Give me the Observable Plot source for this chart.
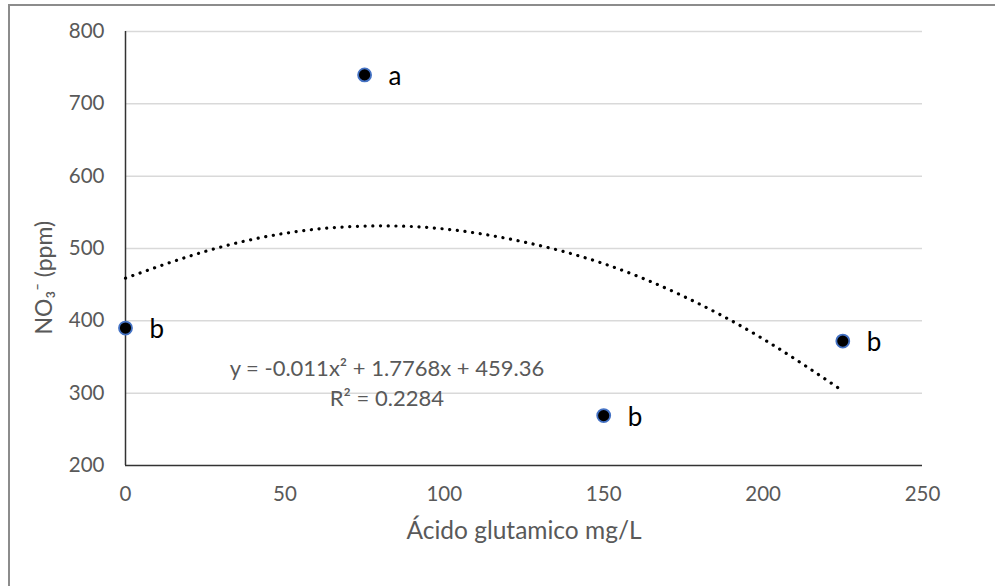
<!DOCTYPE html>
<html>
<head>
<meta charset="utf-8">
<script src="https://cdn.jsdelivr.net/npm/d3@7"></script>
<script src="https://cdn.jsdelivr.net/npm/@observablehq/plot@0.6"></script>
<style>
  html, body { margin: 0; padding: 0; background: #fff; overflow: hidden; }
  #wrap { position: relative; width: 995px; height: 586px; }
  #frame { position: absolute; left: 8px; top: 4px; width: 1000px; height: 600px; border: 2px solid #8c8c8c; box-sizing: border-box; }
  #chart { position: absolute; left: 0; top: 0; }
</style>
</head>
<body>
<div id="wrap"><div id="frame"></div><div id="chart"></div></div>
<script>
// Observed data
const doses = [0, 75, 150, 225];
const nitrate = [390, 740, 269, 372];
const letters = ["b", "a", "b", "b"];

// Trendline values (polynomial fit shown in chart)
const trendX = [0, 25, 50, 75, 100, 125, 150, 175, 200, 225];
const trendY = [459, 496, 521, 531, 527, 509, 479, 434, 375, 303];

// Equation annotation
const eqLines = ["y = -0.011x² + 1.7768x + 459.36", "R² = 0.2284"];
const eqX = [82, 82];
const eqY = [333, 292];

const yTicks = [200, 300, 400, 500, 600, 700, 800];
const xTicks = [0, 50, 100, 150, 200, 250];

const points = doses.map((d, i) => ({x: d, y: nitrate[i], label: letters[i]}));
const trend = trendX.map((d, i) => ({x: d, y: trendY[i]}));
const eq = eqLines.map((t, i) => ({x: eqX[i], y: eqY[i], text: t}));

const plot = Plot.plot({
  width: 995,
  height: 586,
  marginLeft: 125,
  marginRight: 73,
  marginTop: 31,
  marginBottom: 121,
  style: {fontFamily: "Lato, 'Open Sans', sans-serif", color: "#595959", background: "transparent"},
  x: {domain: [0, 250], ticks: xTicks},
  y: {domain: [200, 800], ticks: yTicks},
  marks: [
    Plot.ruleY(yTicks.filter(t => t > 200), {stroke: "#d9d9d9", strokeWidth: 1.5}),
    Plot.axisY(yTicks, {tickSize: 0, tickPadding: 21, fontSize: 20.5, label: null, fill: "#595959"}),
    Plot.axisX(xTicks, {tickSize: 0, tickPadding: 21, fontSize: 20.5, label: null, fill: "#595959"}),
    Plot.ruleX([0], {stroke: "#333", strokeWidth: 1.5}),
    Plot.ruleY([200], {stroke: "#333", strokeWidth: 1.5}),
    Plot.line(trend, {x: "x", y: "y", curve: "natural", stroke: "#000", strokeWidth: 3.2, strokeDasharray: "0.1 7.6", strokeLinecap: "round"}),
    Plot.dot(points, {x: "x", y: "y", r: 6.5, fill: "#000", stroke: "#4472C4", strokeWidth: 1.8}),
    Plot.text(points, {x: "x", y: "y", text: "label", dx: 24, dy: 2, fontSize: 26, fill: "#000", textAnchor: "start"}),
    Plot.text(eq, {x: "x", y: "y", text: "text", fontSize: 22, fill: "#595959"}),
    Plot.text(["Ácido glutamico mg/L"], {frameAnchor: "bottom", dy: 73, fontSize: 24.5, fill: "#595959"}),
    Plot.text(["NO₃⁻ (ppm)"], {frameAnchor: "left", dx: -81, dy: 86, rotate: -90, fontSize: 23, fill: "#595959"})
  ]
});
document.getElementById("chart").appendChild(plot);
</script>
</body>
</html>
